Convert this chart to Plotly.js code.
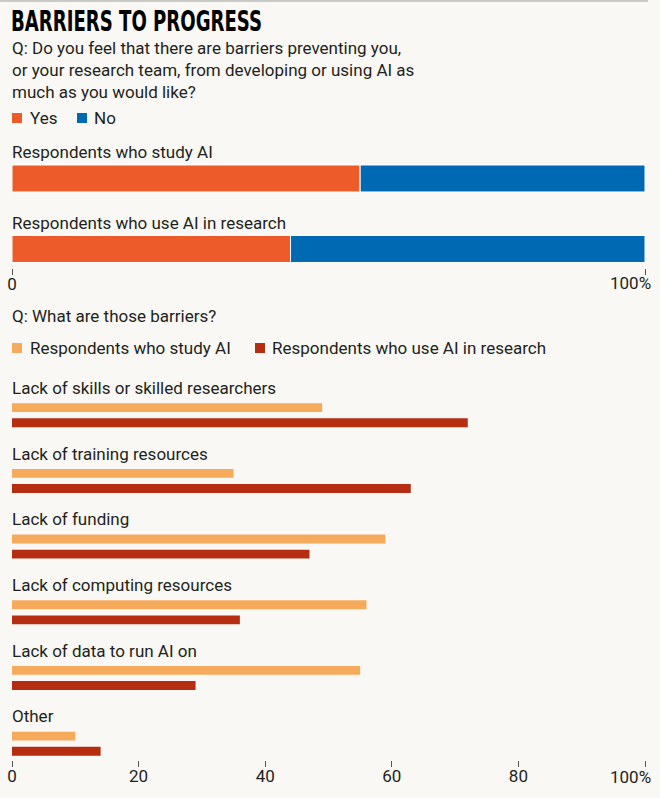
<!DOCTYPE html>
<html>
<head>
<meta charset="utf-8">
<script src="https://cdn.plot.ly/plotly-3.0.1.min.js"></script>
<style>
  html, body { margin: 0; padding: 0; background: #F9F8F4; }
  #chart { width: 660px; height: 798px; }
</style>
</head>
<body>
<div id="chart"></div>
<script>
// ---- Data ----
const groupCats = ['Respondents who study AI', 'Respondents who use AI in research'];
const yesValues = [55, 44];
const noValues = [45, 56];

const barrierCats = [
  'Lack of skills or skilled researchers',
  'Lack of training resources',
  'Lack of funding',
  'Lack of computing resources',
  'Lack of data to run AI on',
  'Other'
];
const studyValues = [49, 35, 59, 56, 55, 10];
const useValues = [72, 63, 47, 36, 29, 14];

const topTickVals = [0, 100];
const topTickText = ['0', ''];
const bottomTickVals = [0, 20, 40, 60, 80, 100];
const bottomTickText = ['0', '20', '40', '60', '80', ''];

// ---- Style ----
const W = 660, H = 798, ML = 12, MR = 15;
const PW = W - ML - MR;
const FONT = 'Roboto, "Open Sans", sans-serif';
const FS = 17;
const TXT = '#231F20';
const C_YES = '#EE5B2A', C_NO = '#0069B4', C_STUDY = '#F6AA5B', C_USE = '#B52E12';
const BG = '#F9F8F4';
const px = x => (x - ML) / PW;       // pixel x -> paper x
const py = y => 1 - y / H;           // pixel y -> paper y

const traces = [
  { type: 'bar', orientation: 'h', y: groupCats, x: yesValues, name: 'Yes',
    xaxis: 'x', yaxis: 'y', width: 0.383,
    marker: { color: C_YES, line: { color: '#ffffff', width: 1 } }, showlegend: false },
  { type: 'bar', orientation: 'h', y: groupCats, x: noValues, base: yesValues, name: 'No',
    xaxis: 'x', yaxis: 'y', width: 0.383,
    marker: { color: C_NO, line: { color: '#ffffff', width: 1 } }, showlegend: false },
  { type: 'bar', orientation: 'h', y: barrierCats, x: studyValues, name: 'Respondents who study AI',
    xaxis: 'x2', yaxis: 'y2', width: 0.135, offset: -0.025,
    marker: { color: C_STUDY, line: { width: 0 } }, showlegend: false },
  { type: 'bar', orientation: 'h', y: barrierCats, x: useValues, name: 'Respondents who use AI in research',
    xaxis: 'x2', yaxis: 'y2', width: 0.135, offset: 0.205,
    marker: { color: C_USE, line: { width: 0 } }, showlegend: false }
];

const txtFont = { family: FONT, size: FS, color: TXT };
const annotations = [];
function leftText(xPx, yPx, text) {
  annotations.push({ xref: 'paper', yref: 'paper', x: px(xPx), y: py(yPx), xanchor: 'left', yanchor: 'middle',
    xshift: -2, showarrow: false, font: txtFont, text: text, align: 'left' });
}
// subtitle
annotations.push({
  xref: 'paper', yref: 'paper', x: 0, y: py(36), xanchor: 'left', yanchor: 'top', align: 'left', xshift: -2,
  showarrow: false, font: txtFont,
  text: 'Q: Do you feel that there are barriers preventing you,<br>or your research team, from developing or using AI as<br>much as you would like?'
});
leftText(30, 118, 'Yes');
leftText(94, 118, 'No');
// top category labels
groupCats.forEach(c => annotations.push({
  xref: 'paper', yref: 'y', x: 0, y: c, xanchor: 'left', yanchor: 'middle', yshift: 26, xshift: -2,
  showarrow: false, font: txtFont, text: c
}));
// top 100% tick label
annotations.push({ xref: 'x', yref: 'paper', x: 100, y: py(283), xanchor: 'right', yanchor: 'middle', xshift: 8,
  showarrow: false, font: txtFont, text: '100%' });
leftText(12, 316, 'Q: What are those barriers?');
leftText(30, 348, 'Respondents who study AI');
leftText(272, 348, 'Respondents who use AI in research');
// barrier labels
barrierCats.forEach(c => annotations.push({
  xref: 'paper', yref: 'y2', x: 0, y: c, xanchor: 'left', yanchor: 'middle', yshift: 17, xshift: -2,
  showarrow: false, font: txtFont, text: c
}));
// bottom 100% tick label
annotations.push({ xref: 'x2', yref: 'paper', x: 100, y: py(777), xanchor: 'right', yanchor: 'middle', xshift: 8,
  showarrow: false, font: txtFont, text: '100%' });

const shapes = [
  { type: 'line', xref: 'paper', yref: 'paper', x0: px(0), x1: px(648), y0: py(1), y1: py(1),
    line: { color: '#C9C9C6', width: 2 } },
  { type: 'rect', xref: 'paper', yref: 'paper', x0: px(12), x1: px(22), y0: py(123), y1: py(113),
    fillcolor: C_YES, line: { width: 0 } },
  { type: 'rect', xref: 'paper', yref: 'paper', x0: px(77), x1: px(87), y0: py(123), y1: py(113),
    fillcolor: C_NO, line: { width: 0 } },
  { type: 'rect', xref: 'paper', yref: 'paper', x0: px(12), x1: px(22), y0: py(353), y1: py(343),
    fillcolor: C_STUDY, line: { width: 0 } },
  { type: 'rect', xref: 'paper', yref: 'paper', x0: px(255), x1: px(265), y0: py(353), y1: py(343),
    fillcolor: C_USE, line: { width: 0 } }
];

const axisX = {
  range: [0, 100], showgrid: false, zeroline: false, showline: false,
  ticks: 'outside', ticklen: 6, tickwidth: 1, tickcolor: '#555',
  ticklabelstandoff: -5,
  tickfont: txtFont, tickmode: 'array', fixedrange: true
};

const layout = {
  width: W, height: H,
  margin: { l: ML, r: MR, t: 0, b: 0, pad: 0 },
  paper_bgcolor: BG, plot_bgcolor: BG,
  barmode: 'overlay',
  showlegend: false,
  title: {
    text: 'BARRIERS TO PROGRESS',
    font: { family: '"Liberation Sans Narrow", "DejaVu Sans Condensed", "Roboto Condensed", Roboto, sans-serif', size: 28, weight: 'bold', color: '#000' },
    xref: 'container', yref: 'container', x: 11 / W, xanchor: 'left', y: 1 - 21 / H, yanchor: 'middle'
  },
  xaxis: Object.assign({}, axisX, { anchor: 'y', domain: [0, 1], tickvals: topTickVals, ticktext: topTickText }),
  yaxis: { domain: [py(268), py(135)], range: [1.27, -0.617], type: 'category', categoryorder: 'array', categoryarray: groupCats,
    showticklabels: false, showgrid: false, zeroline: false, showline: false, ticks: '', fixedrange: true },
  xaxis2: Object.assign({}, axisX, { anchor: 'y2', domain: [0, 1], tickvals: bottomTickVals, ticktext: bottomTickText }),
  yaxis2: { domain: [py(760), py(372)], range: [5.406, -0.5], type: 'category', categoryorder: 'array', categoryarray: barrierCats,
    showticklabels: false, showgrid: false, zeroline: false, showline: false, ticks: '', fixedrange: true },
  annotations: annotations,
  shapes: shapes,
  hovermode: false
};

Plotly.newPlot('chart', traces, layout, { displayModeBar: false, staticPlot: true }).then(gd => {
  const t = gd.querySelector('.gtitle');
  if (t) {
    t.setAttribute('textLength', '251');
    t.setAttribute('lengthAdjust', 'spacingAndGlyphs');
  }
});
</script>
</body>
</html>
